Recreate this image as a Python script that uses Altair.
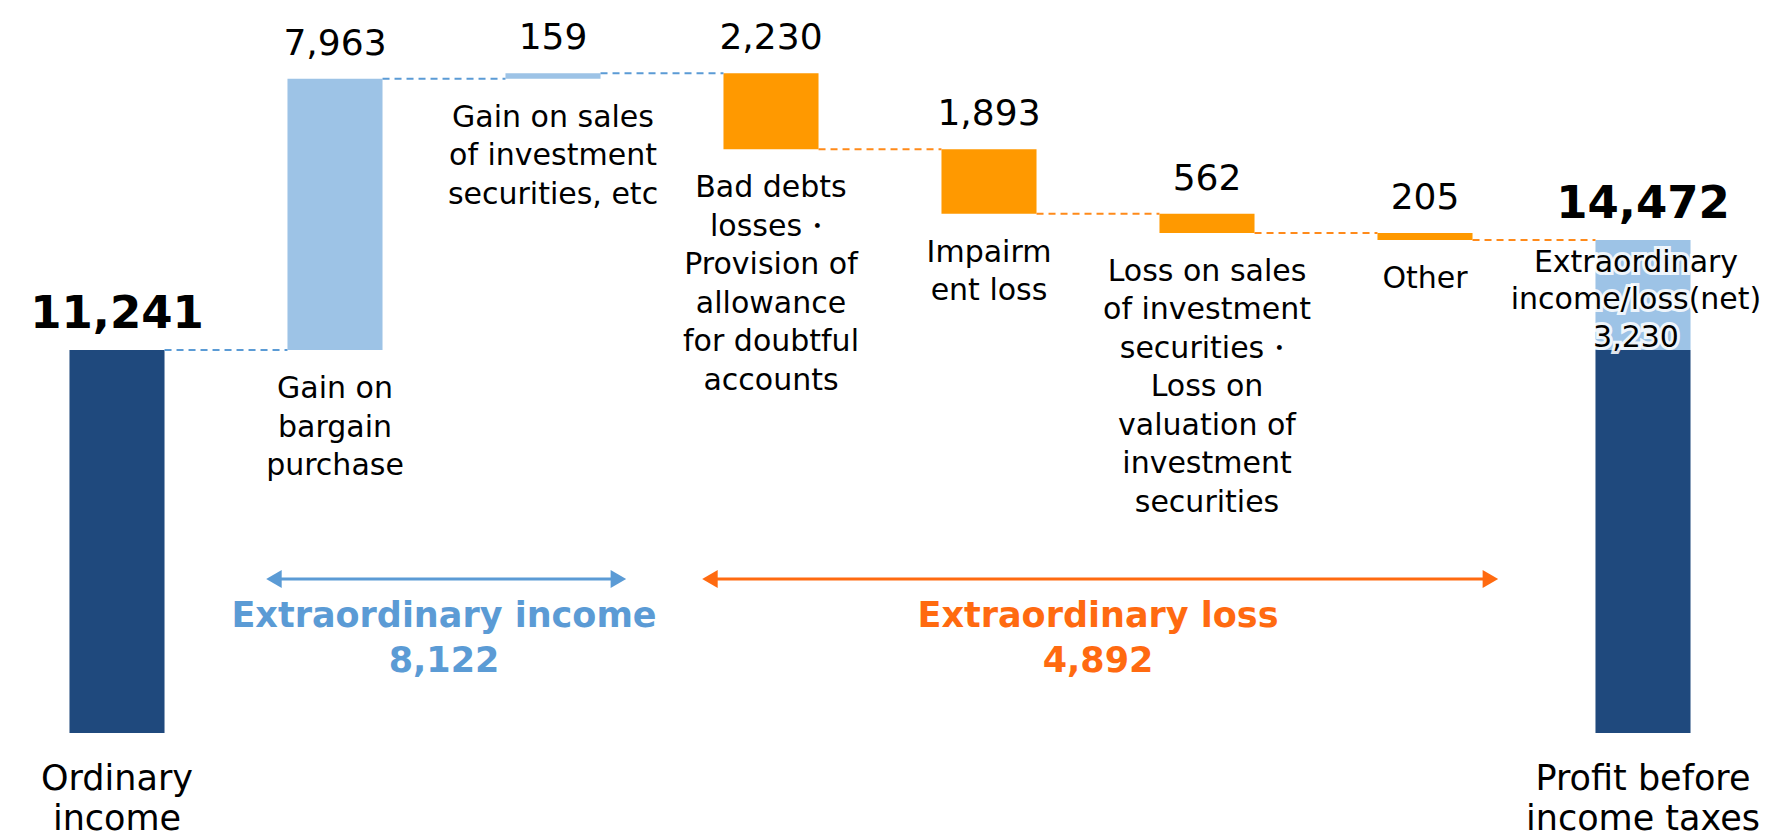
import altair as alt
import pandas as pd

# ---------------- data ----------------
categories = [
    "Ordinary income",
    "Gain on bargain purchase",
    "Gain on sales of investment securities, etc",
    "Bad debts losses・Provision of allowance for doubtful accounts",
    "Impairment loss",
    "Loss on sales of investment securities・Loss on valuation of investment securities",
    "Other",
    "Profit before income taxes",
]
values = [11241, 7963, 159, -2230, -1893, -562, -205, 14472]
kinds = ["total", "gain", "gain", "loss", "loss", "loss", "loss", "total"]
value_texts = ["11,241", "7,963", "159", "2,230", "1,893", "562", "205", "14,472"]
inner_labels = [
    "",
    "Gain on\nbargain\npurchase",
    "Gain on sales\nof investment\nsecurities, etc",
    "Bad debts\nlosses・\nProvision of\nallowance\nfor doubtful\naccounts",
    "Impairm\nent loss",
    "Loss on sales\nof investment\nsecurities・\nLoss on\nvaluation of\ninvestment\nsecurities",
    "Other",
    "",
]
bottom_labels = ["Ordinary\nincome", "", "", "", "", "", "", "Profit before\nincome taxes"]
net_value = 3230
net_text = "Extraordinary\nincome/loss(net)\n3,230"
summary_names = ["Extraordinary income", "Extraordinary loss"]
summary_values = ["8,122", "4,892"]

FONT = "DejaVu Sans"
color_keys = ["total", "gain", "loss", "net", "c_blue", "c_orange", "g_blue", "g_orange"]
color_vals = ["#1F497D", "#9DC3E6", "#FF9900", "#9DC3E6", "#5B9BD5", "#FF8A1A", "#5B9BD5", "#FF6A10"]

# ---------------- derived tables ----------------
bars, vlabels, clabels, conns = [], [], [], []
level = 0
ends = []
for i, (c, v, k) in enumerate(zip(categories, values, kinds)):
    if k == "total":
        start, end = 0, v
    else:
        start, end = level, level + v
    level = end
    ends.append(end)
    top, bot = max(start, end), min(start, end)
    if i == len(categories) - 1:
        bars.append(dict(cat=c, y0=0, y1=v - net_value, kind="total"))
        bars.append(dict(cat=c, y0=v - net_value, y1=v, kind="net"))
    else:
        bars.append(dict(cat=c, y0=start, y1=end, kind=k))
    vlabels.append(dict(cat=c, top=top, txt=value_texts[i], bold=(k == "total")))
    clabels.append(dict(cat=c, bot=bot, zero=0, txt=inner_labels[i], btxt=bottom_labels[i]))

for i in range(len(categories) - 1):
    conns.append(dict(frm=categories[i], to=categories[i + 1], lvl=ends[i],
                      kind="c_blue" if kinds[i] != "loss" else "c_orange"))

bars = pd.DataFrame(bars)
vlabels = pd.DataFrame(vlabels)
clabels = pd.DataFrame(clabels)
conns = pd.DataFrame(conns)

gain_idx = [i for i, k in enumerate(kinds) if k == "gain"]
loss_idx = [i for i, k in enumerate(kinds) if k == "loss"]
brackets = pd.DataFrame([
    dict(s=categories[gain_idx[0]], e=categories[gain_idx[-1]],
         mid=categories[gain_idx[0]], kind="g_blue",
         txt=f"{summary_names[0]}\n{summary_values[0]}"),
    dict(s=categories[loss_idx[0]], e=categories[loss_idx[-1]],
         mid=categories[loss_idx[1]], kind="g_orange",
         txt=f"{summary_names[1]}\n{summary_values[1]}"),
])

final_cat = categories[-1]
net_df = pd.DataFrame([dict(cat=final_cat, top=values[-1], txt=net_text)])

# ---------------- scales ----------------
xscale = alt.Scale(domain=categories, paddingInner=0, paddingOuter=0)
yscale = alt.Scale(domain=[0, 21280], nice=False, zero=False)
cscale = alt.Scale(domain=color_keys, range=color_vals)
COL = alt.Color("kind:N", scale=cscale, legend=None)

def X(field, **kw):
    return alt.X(f"{field}:N", scale=xscale, axis=None, **kw)

def Y(field):
    return alt.Y(f"{field}:Q", scale=yscale, axis=None)

connectors = alt.Chart(conns).mark_rule(strokeDash=[7, 5], strokeWidth=2).encode(
    x=X("frm", bandPosition=0.718),
    x2=alt.X2("to", bandPosition=0.282),
    y=Y("lvl"),
    color=COL,
)

bar_layer = alt.Chart(bars).mark_bar(width=alt.RelativeBandSize(0.436)).encode(
    x=alt.X("cat:N", scale=xscale,
            axis=alt.Axis(domain=True, domainColor="#A6A6A6", domainWidth=2,
                          ticks=False, labels=False, title=None, grid=False)),
    y=Y("y0"),
    y2="y1",
    color=COL,
)

vtext_reg = alt.Chart(vlabels[~vlabels["bold"]]).mark_text(
    font=FONT, fontSize=36, color="black", baseline="alphabetic", dy=-24
).encode(x=X("cat"), y=Y("top"), text="txt:N")

vtext_bold = alt.Chart(vlabels[vlabels["bold"]]).mark_text(
    font=FONT, fontSize=45, fontWeight="bold", color="black", baseline="alphabetic", dy=-22
).encode(x=X("cat"), y=Y("top"), text="txt:N")

ctext = alt.Chart(clabels[clabels["txt"] != ""]).mark_text(
    font=FONT, fontSize=30, color="black", baseline="alphabetic", lineBreak="\n",
    lineHeight=38.5, dy=48
).encode(x=X("cat"), y=Y("bot"), text="txt:N")

btext = alt.Chart(clabels[clabels["btxt"] != ""]).mark_text(
    font=FONT, fontSize=35, color="black", baseline="alphabetic", lineBreak="\n",
    lineHeight=40, dy=57
).encode(x=X("cat"), y=Y("zero"), text="btxt:N")

net_halo = alt.Chart(net_df).mark_text(
    font=FONT, fontSize=30, color="white", stroke="white", strokeWidth=6,
    strokeOpacity=0.85, baseline="alphabetic", lineBreak="\n", lineHeight=37.5, dy=32, dx=-7
).encode(x=X("cat"), y=Y("top"), text="txt:N")
net_text_layer = alt.Chart(net_df).mark_text(
    font=FONT, fontSize=30, color="black", baseline="alphabetic", lineBreak="\n",
    lineHeight=37.5, dy=32, dx=-7
).encode(x=X("cat"), y=Y("top"), text="txt:N")

arrow_lines = alt.Chart(brackets).mark_rule(strokeWidth=3).encode(
    x=X("s", bandPosition=0.22), x2=alt.X2("e", bandPosition=0.8),
    y=alt.value(571), color=COL)
arrow_left = alt.Chart(brackets).mark_point(shape="triangle-left", filled=True, size=320, opacity=1).encode(
    x=X("s", bandPosition=0.22), y=alt.value(571), color=COL)
arrow_right = alt.Chart(brackets).mark_point(shape="triangle-right", filled=True, size=320, opacity=1).encode(
    x=X("e", bandPosition=0.8), y=alt.value(571), color=COL)
bracket_text = alt.Chart(brackets).mark_text(
    font=FONT, fontSize=35, fontWeight="bold", baseline="alphabetic", lineBreak="\n", lineHeight=45
).encode(x=X("mid", bandPosition=1), y=alt.value(619), text="txt:N", color=COL)

chart = alt.layer(
    bar_layer, connectors, vtext_reg, vtext_bold, ctext, btext,
    net_halo, net_text_layer, arrow_lines, arrow_left, arrow_right, bracket_text
).properties(
    width=1744, height=725,
    padding={"left": 0, "top": 0, "right": 11, "bottom": 107},
    autosize=alt.AutoSizeParams(type="none"),
    background="white",
).configure_view(stroke=None)

chart.save("out.html", embed_options={"renderer": "svg", "actions": False})
